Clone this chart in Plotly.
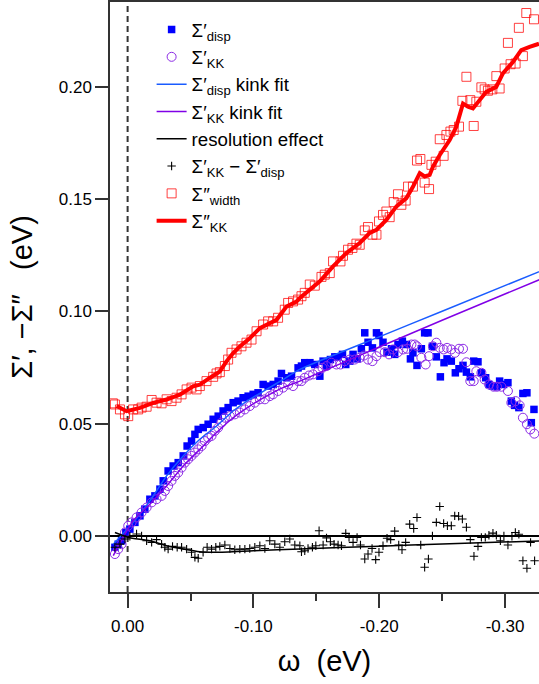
import plotly.graph_objects as go

# ---------------- data ----------------
disp_x = [0.0101, 0.0075, 0.0048, 0.0014, -0.0018, -0.0058, -0.0098, -0.0137, -0.0177, -0.0217,
          -0.0257, -0.0283, -0.0322, -0.0362, -0.0402, -0.0442, -0.0473, -0.0508, -0.0535, -0.0561,
          -0.0601, -0.0640, -0.0680, -0.0720, -0.0759, -0.0799, -0.0839, -0.0878, -0.0918, -0.0958,
          -0.0998, -0.1037, -0.1077, -0.1117, -0.1157, -0.1196, -0.1223, -0.1263, -0.1303, -0.1355,
          -0.1382, -0.1408, -0.1449, -0.1488, -0.1528, -0.1554, -0.1581, -0.1612, -0.1647, -0.1673,
          -0.1708, -0.1734, -0.1766, -0.1792, -0.1824, -0.1858, -0.1885, -0.1911, -0.1946, -0.1978,
          -0.1998, -0.2030, -0.2062, -0.2097, -0.2123, -0.2149, -0.2184, -0.2216, -0.2248, -0.2268,
          -0.2300, -0.2335, -0.2361, -0.2388, -0.2423, -0.2454, -0.2486, -0.2515, -0.2539, -0.2573,
          -0.2605, -0.2634, -0.2666, -0.2693, -0.2724, -0.2751, -0.2785, -0.2812, -0.2846, -0.2873,
          -0.2899, -0.2931, -0.2957, -0.2989, -0.3023, -0.3050, -0.3076, -0.3110, -0.3142, -0.3174,
          -0.3209, -0.3230]
disp_y = [-0.0050, -0.0036, -0.0021, 0.0016, 0.0031, 0.0061, 0.0090, 0.0120, 0.0164, 0.0179,
          0.0209, 0.0246, 0.0290, 0.0312, 0.0327, 0.0357, 0.0401, 0.0423, 0.0453, 0.0475,
          0.0483, 0.0498, 0.0520, 0.0534, 0.0557, 0.0572, 0.0594, 0.0601, 0.0616, 0.0623,
          0.0631, 0.0638, 0.0675, 0.0668, 0.0675, 0.0690, 0.0724, 0.0705, 0.0712, 0.0749,
          0.0757, 0.0772, 0.0772, 0.0764, 0.0712, 0.0779, 0.0757, 0.0786, 0.0798, 0.0798,
          0.0809, 0.0764, 0.0779, 0.0809, 0.0789, 0.0834, 0.0905, 0.0863, 0.0838, 0.0905,
          0.0893, 0.0863, 0.0819, 0.0834, 0.0809, 0.0853, 0.0868, 0.0853, 0.0789, 0.0816,
          0.0760, 0.0834, 0.0905, 0.0905, 0.0845, 0.0798, 0.0709, 0.0772, 0.0789, 0.0779,
          0.0727, 0.0745, 0.0760, 0.0730, 0.0709, 0.0779, 0.0776, 0.0727, 0.0705, 0.0675,
          0.0668, 0.0665, 0.0690, 0.0675, 0.0683, 0.0601, 0.0582, 0.0572, 0.0635, 0.0638,
          0.0505, 0.0564]

kk_x = [0.0101, 0.0075, 0.0048, 0.0021, -0.0005, -0.0032, -0.0071, -0.0111, -0.0151, -0.0191,
        -0.0230, -0.0270, -0.0296, -0.0322, -0.0349, -0.0376, -0.0402, -0.0429, -0.0455, -0.0481,
        -0.0508, -0.0535, -0.0561, -0.0588, -0.0614, -0.0640, -0.0667, -0.0693, -0.0720, -0.0746,
        -0.0773, -0.0813, -0.0852, -0.0892, -0.0932, -0.0971, -0.1011, -0.1051, -0.1091, -0.1130,
        -0.1156, -0.1196, -0.1236, -0.1276, -0.1315, -0.1355,
        -0.1382, -0.1408, -0.1442, -0.1474, -0.1514, -0.1549, -0.1581, -0.1620, -0.1660, -0.1692,
        -0.1726, -0.1766, -0.1805, -0.1845, -0.1879, -0.1911, -0.1946, -0.1978, -0.2004, -0.2044,
        -0.2078, -0.2110, -0.2149, -0.2189, -0.2221, -0.2256, -0.2282, -0.2300, -0.2335, -0.2369,
        -0.2396, -0.2427, -0.2454, -0.2481, -0.2512, -0.2539, -0.2573, -0.2602, -0.2634, -0.2666,
        -0.2693, -0.2724, -0.2751, -0.2772, -0.2812, -0.2838, -0.2873, -0.2909, -0.2936, -0.2971,
        -0.3023, -0.3050, -0.3084, -0.3116, -0.3142, -0.3174, -0.3201, -0.3233]
kk_y = [-0.0080, -0.0058, -0.0036, 0.0016, 0.0046, 0.0061, 0.0083, 0.0105, 0.0127, 0.0150,
        0.0164, 0.0179, 0.0201, 0.0223, 0.0246, 0.0268, 0.0283, 0.0305, 0.0327, 0.0342,
        0.0357, 0.0372, 0.0386, 0.0401, 0.0423, 0.0438, 0.0446, 0.0468, 0.0483, 0.0505,
        0.0527, 0.0534, 0.0542, 0.0550, 0.0564, 0.0579, 0.0594, 0.0609, 0.0609, 0.0623,
        0.0631, 0.0646, 0.0661, 0.0675, 0.0668, 0.0690,
        0.0690, 0.0705, 0.0715, 0.0720, 0.0734, 0.0749, 0.0757, 0.0772, 0.0764, 0.0764,
        0.0779, 0.0786, 0.0786, 0.0794, 0.0804, 0.0786, 0.0779, 0.0801, 0.0819, 0.0819,
        0.0809, 0.0831, 0.0819, 0.0831, 0.0834, 0.0853, 0.0853, 0.0845, 0.0794, 0.0764,
        0.0801, 0.0845, 0.0861, 0.0838, 0.0831, 0.0838, 0.0831, 0.0816, 0.0834, 0.0834,
        0.0774, 0.0690, 0.0690, 0.0734, 0.0727, 0.0697, 0.0675, 0.0665, 0.0665, 0.0665,
        0.0646, 0.0594, 0.0601, 0.0582, 0.0527, 0.0498, 0.0475, 0.0456]

fit_disp_x = [0.0114, -0.0044, -0.0177, -0.0310, -0.0442, -0.0574, -0.0707, -0.0839, -0.0971,
              -0.1104, -0.1236, -0.1369, -0.2000, -0.2500, -0.3300]
fit_disp_y = [-0.0036, 0.0061, 0.0157, 0.0268, 0.0357, 0.0431, 0.0490, 0.0557, 0.0609,
              0.0653, 0.0697, 0.0742, 0.0887, 0.1001, 0.1184]

fit_kk_x = [0.0114, -0.0044, -0.0177, -0.0310, -0.0442, -0.0574, -0.0707, -0.0839, -0.0971,
            -0.1104, -0.1236, -0.1369, -0.2000, -0.2500, -0.3300]
fit_kk_y = [-0.0087, 0.0068, 0.0142, 0.0223, 0.0312, 0.0386, 0.0461, 0.0527, 0.0579,
            0.0623, 0.0661, 0.0690, 0.0842, 0.0961, 0.1148]

res_x = [0.0101, -0.0005, -0.0177, -0.0310, -0.0442, -0.0574, -0.0707, -0.1000, -0.1370,
         -0.2000, -0.2500, -0.3300]
res_y = [0.0016, -0.0006, -0.0021, -0.0043, -0.0058, -0.0070, -0.0072, -0.0065, -0.0057,
         -0.0045, -0.0035, -0.0021]

diff_x = [0.0101, 0.0061, 0.0021, -0.0018, -0.0071, -0.0111, -0.0151, -0.0191, -0.0230, -0.0270,
          -0.0296, -0.0322, -0.0357, -0.0394, -0.0429, -0.0469, -0.0508, -0.0535, -0.0561, -0.0600,
          -0.0632, -0.0667, -0.0701, -0.0733, -0.0773, -0.0813, -0.0852, -0.0892, -0.0932, -0.0971,
          -0.1011, -0.1051, -0.1091, -0.1130, -0.1170, -0.1210, -0.1249, -0.1289, -0.1329, -0.1369,
          -0.1382, -0.1408, -0.1434, -0.1469, -0.1496, -0.1522, -0.1554, -0.1581, -0.1612, -0.1641,
          -0.1673, -0.1700, -0.1734, -0.1760, -0.1792, -0.1824, -0.1851, -0.1885, -0.1911, -0.1943,
          -0.1972, -0.1998, -0.2030, -0.2062, -0.2091, -0.2123, -0.2155, -0.2181, -0.2210, -0.2242,
          -0.2274, -0.2300, -0.2330, -0.2361, -0.2391, -0.2423, -0.2454, -0.2481, -0.2512, -0.2542,
          -0.2573, -0.2600, -0.2631, -0.2661, -0.2693, -0.2724, -0.2753, -0.2785, -0.2812, -0.2843,
          -0.2872, -0.2904, -0.2931, -0.2963, -0.2991, -0.3023, -0.3055, -0.3082, -0.3110, -0.3142,
          -0.3174, -0.3203, -0.3235]
diff_y = [-0.0050, -0.0036, -0.0013, -0.0001, 0.0009, 0.0001, -0.0021, -0.0028, -0.0016, -0.0036,
          -0.0050, -0.0058, -0.0046, -0.0050, -0.0050, -0.0058, -0.0072, -0.0095, -0.0099, -0.0072,
          -0.0050, -0.0058, -0.0050, -0.0046, -0.0040, -0.0055, -0.0061, -0.0058, -0.0058, -0.0055,
          -0.0050, -0.0043, -0.0055, -0.0021, -0.0036, -0.0050, -0.0025, -0.0013, -0.0040, -0.0043,
          -0.0070, -0.0065, -0.0055, -0.0050, -0.0043, 0.0024, -0.0040, -0.0008, -0.0025, -0.0036,
          -0.0040, -0.0043, 0.0012, -0.0006, -0.0028, -0.0006, -0.0040, -0.0102, -0.0080, -0.0055,
          -0.0105, -0.0072, -0.0043, -0.0010, -0.0016, 0.0022, -0.0040, -0.0061, -0.0028, 0.0053,
          0.0034, 0.0083, -0.0040, -0.0139, -0.0102, 0.0001, 0.0061, 0.0132, 0.0056, 0.0046,
          0.0046, 0.0090, 0.0088, 0.0076, 0.0039, -0.0016, -0.0090, -0.0046, -0.0006, -0.0006,
          0.0004, 0.0013, 0.0004, -0.0021, 0.0001, -0.0040, -0.0001, 0.0016, 0.0008, -0.0110,
          -0.0143, -0.0028, -0.0110]

width_x = [0.0117, 0.0101, 0.0061, 0.0021, -0.0005, -0.0044, -0.0084, -0.0111, -0.0151, -0.0191,
           -0.0230, -0.0270, -0.0310, -0.0349, -0.0389, -0.0429, -0.0469, -0.0508, -0.0548, -0.0574,
           -0.0627, -0.0680, -0.0707, -0.0733, -0.0773, -0.0799, -0.0826, -0.0866, -0.0905, -0.0945,
           -0.0985, -0.1025, -0.1077, -0.1117, -0.1157, -0.1196, -0.1249, -0.1276, -0.1315, -0.1355,
           -0.1382, -0.1408, -0.1448, -0.1488, -0.1541, -0.1567, -0.1607, -0.1633, -0.1692, -0.1712,
           -0.1752, -0.1787, -0.1819, -0.1845, -0.1885, -0.1911, -0.1946, -0.1978, -0.1998, -0.2030,
           -0.2057, -0.2083, -0.2115, -0.2149, -0.2176, -0.2210, -0.2229, -0.2268, -0.2300, -0.2327,
           -0.2361, -0.2396, -0.2415, -0.2449, -0.2481, -0.2512, -0.2534, -0.2566, -0.2592, -0.2634,
           -0.2661, -0.2693, -0.2724, -0.2751, -0.2772, -0.2812, -0.2838, -0.2864, -0.2899, -0.2931,
           -0.2957, -0.2997, -0.3023, -0.3044, -0.3084, -0.3110, -0.3142, -0.3169, -0.3230]
width_y = [0.0591, 0.0586, 0.0564, 0.0542, 0.0534, 0.0564, 0.0564, 0.0572, 0.0576, 0.0606,
           0.0594, 0.0591, 0.0609, 0.0601, 0.0616, 0.0631, 0.0653, 0.0661, 0.0653, 0.0668,
           0.0690, 0.0709, 0.0724, 0.0730, 0.0757, 0.0786, 0.0816, 0.0831, 0.0845, 0.0861,
           0.0875, 0.0912, 0.0942, 0.0956, 0.0956, 0.0972, 0.1008, 0.1038, 0.1045, 0.1053,
           0.1068, 0.1083, 0.1120, 0.1115, 0.1154, 0.1164, 0.1171, 0.1223, 0.1223, 0.1248,
           0.1275, 0.1283, 0.1302, 0.1297, 0.1361, 0.1376, 0.1342, 0.1342, 0.1401, 0.1430,
           0.1445, 0.1420, 0.1487, 0.1522, 0.1475, 0.1494, 0.1556, 0.1556, 0.1672, 0.1679,
           0.1574, 0.1545, 0.1653, 0.1667, 0.1767, 0.1693, 0.1786, 0.1801, 0.1808, 0.1823,
           0.1938, 0.2045, 0.1941, 0.1826, 0.1934, 0.1998, 0.1989, 0.1983, 0.1989, 0.2048,
           0.1993, 0.2082, 0.2196, 0.2101, 0.2104, 0.2263, 0.2137, 0.2329, 0.2301]

kk2_x = [0.0087, 0.0008, -0.0098, -0.0203, -0.0310, -0.0415, -0.0521, -0.0574, -0.0653, -0.0733,
         -0.0786, -0.0839, -0.0892, -0.0971, -0.1051, -0.1130, -0.1184, -0.1263, -0.1342, -0.1369,
         -0.1449, -0.1528, -0.1633, -0.1739, -0.1845, -0.1925, -0.1978, -0.2057, -0.2137, -0.2216,
         -0.2269, -0.2322, -0.2361, -0.2401, -0.2427, -0.2481, -0.2560, -0.2613, -0.2666, -0.2705,
         -0.2745, -0.2798, -0.2851, -0.2930, -0.2983, -0.3063, -0.3129, -0.3195, -0.3270]
kk2_y = [0.0579, 0.0556, 0.0571, 0.0593, 0.0608, 0.0630, 0.0667, 0.0674, 0.0704, 0.0733,
         0.0778, 0.0815, 0.0844, 0.0881, 0.0926, 0.0948, 0.0963, 0.1022, 0.1044, 0.1060,
         0.1097, 0.1134, 0.1201, 0.1260, 0.1305, 0.1350, 0.1364, 0.1408, 0.1468, 0.1505,
         0.1556, 0.1616, 0.1601, 0.1608, 0.1645, 0.1697, 0.1763, 0.1823, 0.1926, 0.1912,
         0.1904, 0.1941, 0.1978, 0.2000, 0.2060, 0.2111, 0.2164, 0.2178, 0.2192]

x_tickvals = [0.0, -0.1, -0.2, -0.3]
x_ticktext = ["0.00", "-0.10", "-0.20", "-0.30"]
y_tickvals = [0.0, 0.05, 0.10, 0.15, 0.20]
y_ticktext = ["0.00", "0.05", "0.10", "0.15", "0.20"]

# ---------------- figure ----------------
FONT = "Arial, Liberation Sans, sans-serif"
fig = go.Figure()

fig.add_trace(go.Scatter(x=disp_x, y=disp_y, mode="markers", name="Σ′<sub>disp</sub>",
                         marker=dict(symbol="square", size=7.5, color="#0000ff", line=dict(width=0))))
fig.add_trace(go.Scatter(x=kk_x, y=kk_y, mode="markers", name="Σ′<sub>KK</sub>",
                         marker=dict(symbol="circle-open", size=9, color="#8c2be6", line=dict(width=1))))
fig.add_trace(go.Scatter(x=fit_disp_x, y=fit_disp_y, mode="lines", name="Σ′<sub>disp</sub> kink fit",
                         line=dict(color="#1a5cff", width=1.5, shape="spline", smoothing=0.6)))
fig.add_trace(go.Scatter(x=fit_kk_x, y=fit_kk_y, mode="lines", name="Σ′<sub>KK</sub> kink fit",
                         line=dict(color="#8000e6", width=1.5, shape="spline", smoothing=0.6)))
fig.add_trace(go.Scatter(x=res_x, y=res_y, mode="lines", name="resolution effect",
                         line=dict(color="#000000", width=1.5, shape="spline", smoothing=0.6)))
fig.add_trace(go.Scatter(x=diff_x, y=diff_y, mode="markers", name="Σ′<sub>KK</sub> − Σ′<sub>disp</sub>",
                         marker=dict(symbol="cross-thin", size=6, color="#000000",
                                     line=dict(width=1.1, color="#000000"))))
fig.add_trace(go.Scatter(x=width_x, y=width_y, mode="markers", name="Σ″<sub>width</sub>",
                         marker=dict(symbol="square-open", size=9, color="rgba(255,0,0,0.75)",
                                     line=dict(width=1))))
fig.add_trace(go.Scatter(x=kk2_x, y=kk2_y, mode="lines", name="Σ″<sub>KK</sub>",
                         line=dict(color="#ff0000", width=4)))

fig.add_shape(type="line", xref="x", yref="paper", x0=0, x1=0, y0=0, y1=1,
              line=dict(color="#333333", width=2, dash="6px,4px"), layer="below")

fig.update_layout(
    width=539, height=684,
    margin=dict(l=110, r=0, t=2, b=92),
    paper_bgcolor="white", plot_bgcolor="white",
    font=dict(family=FONT, size=17, color="black"),
    showlegend=True,
    legend=dict(x=0.097, y=0.985, xanchor="left", yanchor="top", bgcolor="rgba(0,0,0,0)",
                font=dict(size=18.7), tracegroupgap=0, itemwidth=30),
    xaxis=dict(range=[0.014, -0.327], tickvals=x_tickvals, ticktext=x_ticktext,
               ticks="outside", ticklen=14, tickwidth=1.5, tickcolor="#333",
               showline=True, linecolor="#333", linewidth=1.5, mirror=True,
               showgrid=False, zeroline=False,
               minor=dict(dtick=0.05, tick0=0, ticks="outside", ticklen=7, tickwidth=1.5,
                          tickcolor="#333", showgrid=False),
               tickfont=dict(size=17), ticklabelstandoff=4,
               title=dict(text="ω  (eV)", font=dict(size=29), standoff=16)),
    yaxis=dict(range=[-0.0249, 0.2378], tickvals=y_tickvals, ticktext=y_ticktext,
               ticks="outside", ticklen=13, tickwidth=1.5, tickcolor="#333",
               showline=True, linecolor="#333", linewidth=1.5,
               showgrid=False, zeroline=True, zerolinecolor="black", zerolinewidth=1.5,
               tickfont=dict(size=17),
               title=dict(text="Σ′, −Σ″   (eV)", font=dict(size=29), standoff=18)),
)

fig.write_html("out.html")
